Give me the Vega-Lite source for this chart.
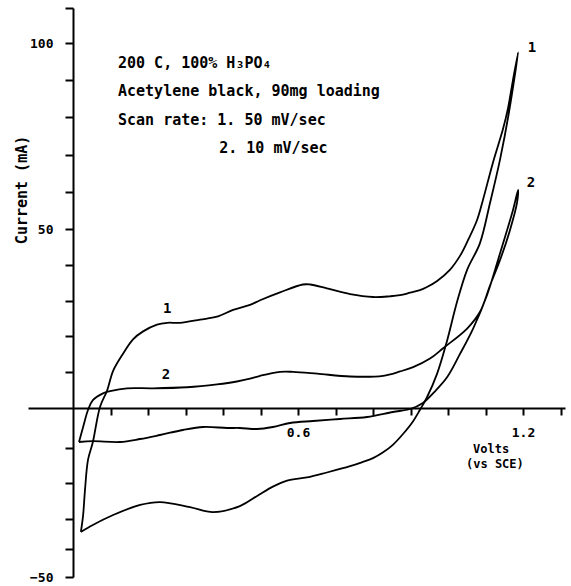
{
  "$schema": "https://vega.github.io/schema/vega-lite/v6.json",
  "width": 537,
  "height": 569,
  "autosize": {"type": "none"},
  "padding": {"left": 28, "top": 8, "right": 6, "bottom": 9},
  "background": "white",
  "config": {"view": {"stroke": null}, "font": "DejaVu Sans Mono", "axis": {"grid": false}},
  "datasets": {
    "cv": [
      {"scan": "1", "i": 0, "volts": 0.021, "current": -34.3},
      {"scan": "1", "i": 1, "volts": 0.027, "current": -28.9},
      {"scan": "1", "i": 2, "volts": 0.032, "current": -21.9},
      {"scan": "1", "i": 3, "volts": 0.040, "current": -13.4},
      {"scan": "1", "i": 4, "volts": 0.053, "current": -8.5},
      {"scan": "1", "i": 5, "volts": 0.072, "current": 0.3},
      {"scan": "1", "i": 6, "volts": 0.091, "current": 4.9},
      {"scan": "1", "i": 7, "volts": 0.107, "current": 10.4},
      {"scan": "1", "i": 8, "volts": 0.133, "current": 15.1},
      {"scan": "1", "i": 9, "volts": 0.160, "current": 19.2},
      {"scan": "1", "i": 10, "volts": 0.187, "current": 21.4},
      {"scan": "1", "i": 11, "volts": 0.224, "current": 23.3},
      {"scan": "1", "i": 12, "volts": 0.251, "current": 23.8},
      {"scan": "1", "i": 13, "volts": 0.285, "current": 23.8},
      {"scan": "1", "i": 14, "volts": 0.339, "current": 24.7},
      {"scan": "1", "i": 15, "volts": 0.384, "current": 25.5},
      {"scan": "1", "i": 16, "volts": 0.427, "current": 27.4},
      {"scan": "1", "i": 17, "volts": 0.472, "current": 28.8},
      {"scan": "1", "i": 18, "volts": 0.499, "current": 30.1},
      {"scan": "1", "i": 19, "volts": 0.552, "current": 32.3},
      {"scan": "1", "i": 20, "volts": 0.613, "current": 34.5},
      {"scan": "1", "i": 21, "volts": 0.632, "current": 34.5},
      {"scan": "1", "i": 22, "volts": 0.677, "current": 33.4},
      {"scan": "1", "i": 23, "volts": 0.739, "current": 31.8},
      {"scan": "1", "i": 24, "volts": 0.800, "current": 31.0},
      {"scan": "1", "i": 25, "volts": 0.845, "current": 31.2},
      {"scan": "1", "i": 26, "volts": 0.872, "current": 31.5},
      {"scan": "1", "i": 27, "volts": 0.899, "current": 32.2},
      {"scan": "1", "i": 28, "volts": 0.925, "current": 32.9},
      {"scan": "1", "i": 29, "volts": 0.944, "current": 33.8},
      {"scan": "1", "i": 30, "volts": 0.971, "current": 35.5},
      {"scan": "1", "i": 31, "volts": 1.005, "current": 38.6},
      {"scan": "1", "i": 32, "volts": 1.032, "current": 42.5},
      {"scan": "1", "i": 33, "volts": 1.053, "current": 46.8},
      {"scan": "1", "i": 34, "volts": 1.077, "current": 52.3},
      {"scan": "1", "i": 35, "volts": 1.091, "current": 57.0},
      {"scan": "1", "i": 36, "volts": 1.120, "current": 67.9},
      {"scan": "1", "i": 37, "volts": 1.147, "current": 77.0},
      {"scan": "1", "i": 38, "volts": 1.160, "current": 82.5},
      {"scan": "1", "i": 39, "volts": 1.173, "current": 89.9},
      {"scan": "1", "i": 40, "volts": 1.187, "current": 97.5},
      {"scan": "1", "i": 41, "volts": 1.163, "current": 81.6},
      {"scan": "1", "i": 42, "volts": 1.139, "current": 68.8},
      {"scan": "1", "i": 43, "volts": 1.112, "current": 57.0},
      {"scan": "1", "i": 44, "volts": 1.085, "current": 46.0},
      {"scan": "1", "i": 45, "volts": 1.051, "current": 38.6},
      {"scan": "1", "i": 46, "volts": 1.024, "current": 29.6},
      {"scan": "1", "i": 47, "volts": 0.997, "current": 18.6},
      {"scan": "1", "i": 48, "volts": 0.971, "current": 9.6},
      {"scan": "1", "i": 49, "volts": 0.944, "current": 3.0},
      {"scan": "1", "i": 50, "volts": 0.925, "current": -0.5},
      {"scan": "1", "i": 51, "volts": 0.907, "current": -3.3},
      {"scan": "1", "i": 52, "volts": 0.880, "current": -6.5},
      {"scan": "1", "i": 53, "volts": 0.853, "current": -9.2},
      {"scan": "1", "i": 54, "volts": 0.826, "current": -11.3},
      {"scan": "1", "i": 55, "volts": 0.800, "current": -12.9},
      {"scan": "1", "i": 56, "volts": 0.770, "current": -14.1},
      {"scan": "1", "i": 57, "volts": 0.739, "current": -15.2},
      {"scan": "1", "i": 58, "volts": 0.677, "current": -17.0},
      {"scan": "1", "i": 59, "volts": 0.624, "current": -18.4},
      {"scan": "1", "i": 60, "volts": 0.571, "current": -19.3},
      {"scan": "1", "i": 61, "volts": 0.533, "current": -21.0},
      {"scan": "1", "i": 62, "volts": 0.491, "current": -23.6},
      {"scan": "1", "i": 63, "volts": 0.445, "current": -26.4},
      {"scan": "1", "i": 64, "volts": 0.373, "current": -28.1},
      {"scan": "1", "i": 65, "volts": 0.312, "current": -26.7},
      {"scan": "1", "i": 66, "volts": 0.232, "current": -25.3},
      {"scan": "1", "i": 67, "volts": 0.179, "current": -26.1},
      {"scan": "1", "i": 68, "volts": 0.107, "current": -28.9},
      {"scan": "1", "i": 69, "volts": 0.053, "current": -32.0},
      {"scan": "1", "i": 70, "volts": 0.021, "current": -34.3},
      {"scan": "2", "i": 0, "volts": 0.016, "current": -8.5},
      {"scan": "2", "i": 1, "volts": 0.027, "current": -4.75},
      {"scan": "2", "i": 2, "volts": 0.040, "current": -0.5},
      {"scan": "2", "i": 3, "volts": 0.053, "current": 2.2},
      {"scan": "2", "i": 4, "volts": 0.080, "current": 4.1},
      {"scan": "2", "i": 5, "volts": 0.099, "current": 4.7},
      {"scan": "2", "i": 6, "volts": 0.144, "current": 5.5},
      {"scan": "2", "i": 7, "volts": 0.213, "current": 5.5},
      {"scan": "2", "i": 8, "volts": 0.304, "current": 5.8},
      {"scan": "2", "i": 9, "volts": 0.384, "current": 6.6},
      {"scan": "2", "i": 10, "volts": 0.437, "current": 7.4},
      {"scan": "2", "i": 11, "volts": 0.472, "current": 8.2},
      {"scan": "2", "i": 12, "volts": 0.499, "current": 9.0},
      {"scan": "2", "i": 13, "volts": 0.552, "current": 10.1},
      {"scan": "2", "i": 14, "volts": 0.587, "current": 10.1},
      {"scan": "2", "i": 15, "volts": 0.651, "current": 9.6},
      {"scan": "2", "i": 16, "volts": 0.739, "current": 8.8},
      {"scan": "2", "i": 17, "volts": 0.827, "current": 9.0},
      {"scan": "2", "i": 18, "volts": 0.872, "current": 10.2},
      {"scan": "2", "i": 19, "volts": 0.907, "current": 11.4},
      {"scan": "2", "i": 20, "volts": 0.952, "current": 13.8},
      {"scan": "2", "i": 21, "volts": 0.987, "current": 16.7},
      {"scan": "2", "i": 22, "volts": 1.051, "current": 22.2},
      {"scan": "2", "i": 23, "volts": 1.085, "current": 26.8},
      {"scan": "2", "i": 24, "volts": 1.112, "current": 34.2},
      {"scan": "2", "i": 25, "volts": 1.139, "current": 41.4},
      {"scan": "2", "i": 26, "volts": 1.165, "current": 49.6},
      {"scan": "2", "i": 27, "volts": 1.184, "current": 57.0},
      {"scan": "2", "i": 28, "volts": 1.187, "current": 60.5},
      {"scan": "2", "i": 29, "volts": 1.173, "current": 55.0},
      {"scan": "2", "i": 30, "volts": 1.139, "current": 43.3},
      {"scan": "2", "i": 31, "volts": 1.104, "current": 31.5},
      {"scan": "2", "i": 32, "volts": 1.067, "current": 22.2},
      {"scan": "2", "i": 33, "volts": 1.032, "current": 15.1},
      {"scan": "2", "i": 34, "volts": 0.997, "current": 8.5},
      {"scan": "2", "i": 35, "volts": 0.960, "current": 4.1},
      {"scan": "2", "i": 36, "volts": 0.933, "current": 1.4},
      {"scan": "2", "i": 37, "volts": 0.899, "current": -0.25},
      {"scan": "2", "i": 38, "volts": 0.853, "current": -1.0},
      {"scan": "2", "i": 39, "volts": 0.784, "current": -2.25},
      {"scan": "2", "i": 40, "volts": 0.712, "current": -2.75},
      {"scan": "2", "i": 41, "volts": 0.640, "current": -3.25},
      {"scan": "2", "i": 42, "volts": 0.579, "current": -3.75},
      {"scan": "2", "i": 43, "volts": 0.533, "current": -4.75},
      {"scan": "2", "i": 44, "volts": 0.491, "current": -5.25},
      {"scan": "2", "i": 45, "volts": 0.445, "current": -5.0},
      {"scan": "2", "i": 46, "volts": 0.411, "current": -5.0},
      {"scan": "2", "i": 47, "volts": 0.347, "current": -4.75},
      {"scan": "2", "i": 48, "volts": 0.293, "current": -5.5},
      {"scan": "2", "i": 49, "volts": 0.232, "current": -6.75},
      {"scan": "2", "i": 50, "volts": 0.179, "current": -7.75},
      {"scan": "2", "i": 51, "volts": 0.125, "current": -8.5},
      {"scan": "2", "i": 52, "volts": 0.053, "current": -8.3},
      {"scan": "2", "i": 53, "volts": 0.016, "current": -8.5}
    ],
    "notes": [
      {"volts": 0.12, "current": 94.6, "text": "200 C, 100% H₃PO₄"},
      {"volts": 0.12, "current": 87.0, "text": "Acetylene black, 90mg loading"},
      {"volts": 0.12, "current": 79.3, "text": "Scan rate: 1. 50 mV/sec"},
      {"volts": 0.39, "current": 71.8, "text": "2. 10 mV/sec"}
    ],
    "labels": [
      {"volts": 0.251, "current": 27.7, "text": "1"},
      {"volts": 0.248, "current": 9.2, "text": "2"},
      {"volts": 1.224, "current": 98.7, "text": "1"},
      {"volts": 1.221, "current": 62.4, "text": "2"}
    ],
    "xtitle": [
      {"volts": 1.115, "current": -10.2, "text": "Volts"},
      {"volts": 1.125, "current": -14.6, "text": "(vs SCE)"}
    ],
    "ytitle": [
      {"volts": -0.136, "current": 60.5, "text": "Current  (mA)"}
    ]
  },
  "layer": [
    {
      "data": {"name": "cv"},
      "mark": {"type": "line", "color": "black", "strokeWidth": 1.8, "interpolate": "catmull-rom"},
      "encoding": {
        "x": {
          "field": "volts", "type": "quantitative",
          "scale": {"domain": [-0.12, 1.312], "nice": false, "zero": false},
          "axis": {
            "orient": "bottom", "offset": -169, "title": null, "tickCount": 40,
            "values": [0.1, 0.2, 0.3, 0.4, 0.5, 0.6, 0.7, 0.8, 0.9, 1.0, 1.1, 1.2, 1.3],
            "labelExpr": "datum.value == 0.6 || datum.value == 1.2 ? format(datum.value, '.1f') : ''",
            "labelOverlap": false, "labelBound": false, "labelFlush": false,
            "domainColor": "black", "domainWidth": 2,
            "tickColor": "black", "tickWidth": 2, "tickSize": 7,
            "labelFont": "DejaVu Sans Mono", "labelFontSize": 13, "labelFontWeight": "bold",
            "labelColor": "black", "labelPadding": 11
          }
        },
        "y": {
          "field": "current", "type": "quantitative",
          "scale": {
            "domain": [-50, -40, -30, -20, -10, 0, 50, 100, 109.6],
            "range": [569, 541, 511, 475, 440, 400, 221, 35, 0],
            "nice": false, "zero": false
          },
          "axis": {
            "orient": "left", "offset": -45, "title": null, "tickCount": 40,
            "values": [-50, -40, -30, -20, -10, 10, 20, 30, 40, 50, 60, 70, 80, 90, 100, 109.6],
            "labelExpr": "datum.value == 100 || datum.value == 50 || datum.value == -50 ? datum.label : ''",
            "labelOverlap": false, "labelBound": false, "labelFlush": false,
            "domainColor": "black", "domainWidth": 2,
            "tickColor": "black", "tickWidth": 2, "tickSize": 8,
            "labelFont": "DejaVu Sans Mono", "labelFontSize": 13, "labelFontWeight": "bold",
            "labelColor": "black", "labelPadding": 12
          }
        },
        "detail": {"field": "scan"},
        "order": {"field": "i", "type": "quantitative"}
      }
    },
    {
      "data": {"name": "notes"},
      "mark": {"type": "text", "align": "left", "baseline": "middle", "font": "DejaVu Sans Mono", "fontSize": 15, "fontWeight": "bold", "color": "black"},
      "encoding": {
        "x": {"field": "volts", "type": "quantitative"},
        "y": {"field": "current", "type": "quantitative"},
        "text": {"field": "text"}
      }
    },
    {
      "data": {"name": "labels"},
      "mark": {"type": "text", "align": "center", "baseline": "middle", "font": "DejaVu Sans Mono", "fontSize": 14, "fontWeight": "bold", "color": "black"},
      "encoding": {
        "x": {"field": "volts", "type": "quantitative"},
        "y": {"field": "current", "type": "quantitative"},
        "text": {"field": "text"}
      }
    },
    {
      "data": {"name": "xtitle"},
      "mark": {"type": "text", "align": "center", "baseline": "middle", "font": "DejaVu Sans Mono", "fontSize": 12, "fontWeight": "bold", "color": "black"},
      "encoding": {
        "x": {"field": "volts", "type": "quantitative"},
        "y": {"field": "current", "type": "quantitative"},
        "text": {"field": "text"}
      }
    },
    {
      "data": {"name": "ytitle"},
      "mark": {"type": "text", "align": "center", "baseline": "middle", "angle": 270, "font": "DejaVu Sans Mono", "fontSize": 15, "fontWeight": "bold", "color": "black"},
      "encoding": {
        "x": {"field": "volts", "type": "quantitative"},
        "y": {"field": "current", "type": "quantitative"},
        "text": {"field": "text"}
      }
    }
  ]
}
